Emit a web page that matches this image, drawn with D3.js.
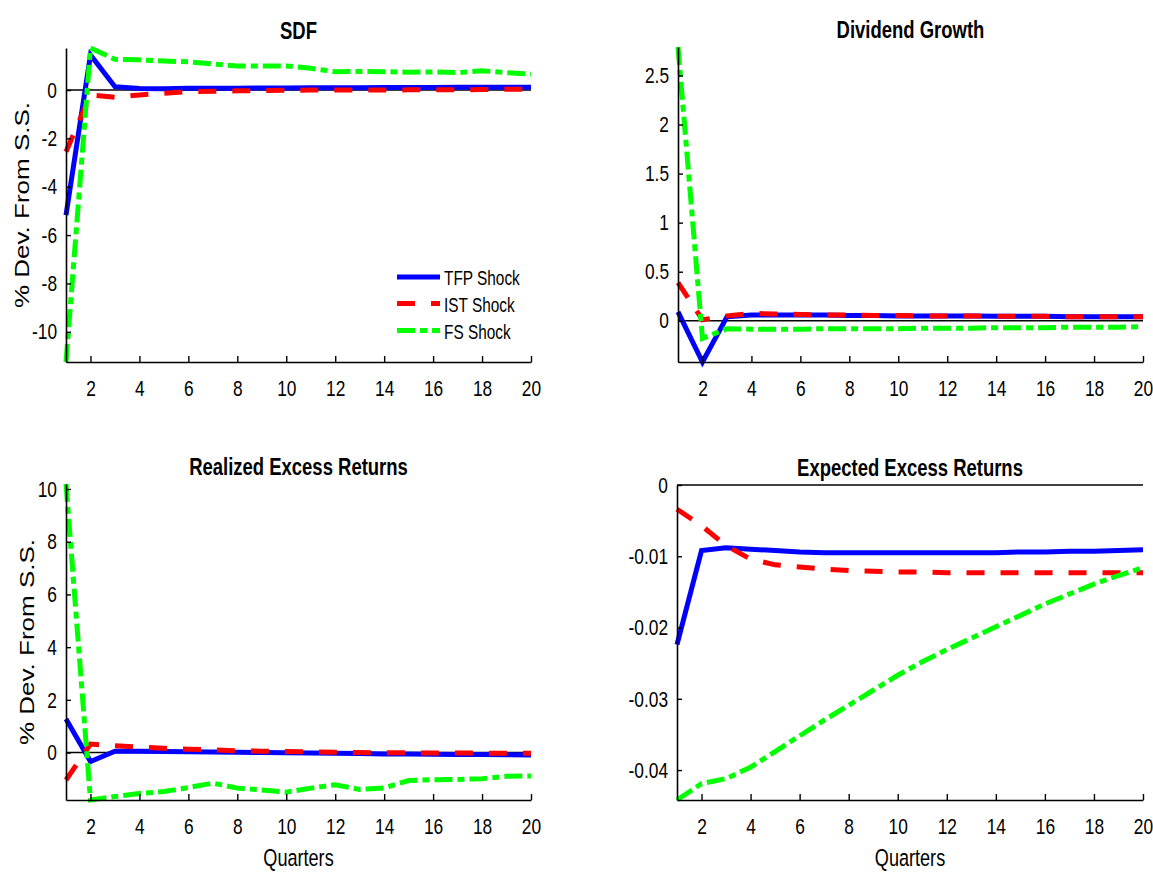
<!DOCTYPE html>
<html>
<head>
<meta charset="utf-8">
<script src="https://cdn.jsdelivr.net/npm/d3@7/dist/d3.min.js"></script>
<style>
  html, body { margin: 0; padding: 0; background: #fff; }
  svg { display: block; font-family: "Liberation Sans", Arial, Helvetica, sans-serif; }
</style>
</head>
<body>
<svg id="chart" width="1153" height="873"></svg>
<script>
// ---------------- data ----------------
const quarters = [1,2,3,4,5,6,7,8,9,10,11,12,13,14,15,16,17,18,19,20];
const xTickValues = [2,4,6,8,10,12,14,16,18,20];
const seriesNames = ["TFP Shock", "IST Shock", "FS Shock"];

// SDF
const sdfTFP = [-5.17, 1.45, 0.14, 0.06, 0.05, 0.07, 0.08, 0.08, 0.09, 0.09, 0.10, 0.10, 0.10, 0.11, 0.11, 0.11, 0.12, 0.12, 0.12, 0.12];
const sdfIST = [-2.55, -0.20, -0.30, -0.20, -0.13, -0.07, -0.05, -0.03, -0.02, -0.01, 0.00, 0.00, 0.00, 0.00, 0.01, 0.01, 0.01, 0.02, 0.03, 0.03];
const sdfFS  = [-11.25, 1.74, 1.27, 1.25, 1.20, 1.17, 1.08, 1.00, 1.00, 1.00, 0.90, 0.76, 0.77, 0.76, 0.74, 0.75, 0.72, 0.80, 0.72, 0.66];
const sdfTicks = [-10, -8, -6, -4, -2, 0];
const sdfTickLabels = ["-10", "-8", "-6", "-4", "-2", "0"];
const sdfDomain = [-11.25, 1.74];

// Dividend Growth
const dgTFP = [0.09, -0.42, 0.04, 0.06, 0.06, 0.06, 0.06, 0.055, 0.055, 0.05, 0.05, 0.05, 0.05, 0.045, 0.045, 0.045, 0.04, 0.04, 0.04, 0.04];
const dgIST = [0.39, 0.01, 0.05, 0.075, 0.07, 0.065, 0.06, 0.06, 0.055, 0.055, 0.05, 0.05, 0.05, 0.045, 0.045, 0.045, 0.04, 0.04, 0.04, 0.04];
const dgFS  = [2.79, -0.18, -0.08, -0.085, -0.085, -0.085, -0.08, -0.08, -0.08, -0.08, -0.075, -0.075, -0.075, -0.07, -0.07, -0.07, -0.065, -0.065, -0.065, -0.06];
const dgTicks = [0, 0.5, 1, 1.5, 2, 2.5];
const dgTickLabels = ["0", "0.5", "1", "1.5", "2", "2.5"];
const dgDomain = [-0.42, 2.79];

// Realized Excess Returns
const rerTFP = [1.27, -0.34, 0.05, 0.05, 0.04, 0.03, 0.02, 0.01, 0.00, -0.01, -0.02, -0.03, -0.04, -0.05, -0.05, -0.06, -0.07, -0.07, -0.08, -0.09];
const rerIST = [-1.04, 0.32, 0.26, 0.21, 0.16, 0.13, 0.10, 0.07, 0.05, 0.04, 0.02, 0.01, 0.00, -0.01, -0.01, -0.02, -0.02, -0.02, -0.03, -0.03];
const rerFS  = [10.19, -1.80, -1.67, -1.55, -1.48, -1.33, -1.16, -1.35, -1.42, -1.50, -1.35, -1.22, -1.40, -1.34, -1.06, -1.03, -1.02, -0.99, -0.90, -0.89];
const rerTicks = [0, 2, 4, 6, 8, 10];
const rerTickLabels = ["0", "2", "4", "6", "8", "10"];
const rerDomain = [-1.80, 10.19];

// Expected Excess Returns
const eerTFP = [-0.0224, -0.0092, -0.0088, -0.0090, -0.0092, -0.0094, -0.0095, -0.0095, -0.0095, -0.0095, -0.0095, -0.0095, -0.0095, -0.0095, -0.0094, -0.0094, -0.0093, -0.0093, -0.0092, -0.0091];
const eerIST = [-0.0034, -0.0057, -0.0085, -0.0104, -0.0112, -0.0115, -0.0118, -0.0120, -0.0121, -0.0122, -0.0122, -0.0123, -0.0123, -0.0123, -0.0123, -0.0123, -0.0123, -0.0123, -0.0123, -0.0123];
const eerFS  = [-0.0442, -0.0419, -0.0412, -0.0396, -0.0374, -0.0352, -0.0330, -0.0309, -0.0288, -0.0267, -0.0248, -0.0231, -0.0215, -0.0199, -0.0183, -0.0167, -0.0153, -0.0139, -0.0127, -0.0116];
const eerTicks = [-0.04, -0.03, -0.02, -0.01, 0];
const eerTickLabels = ["-0.04", "-0.03", "-0.02", "-0.01", "0"];
const eerDomain = [-0.0442, 0];

// ---------------- styles & layout ----------------
const colors = ["#0000ff", "#ff0000", "#00ff00"];
const dashes = [null, "18,16", "18,5,7,5"];
const SQ = 0.77;   // horizontal squeeze of text (as in the reference)

const panels = [
  { title: "SDF", tfp: sdfTFP, ist: sdfIST, fs: sdfFS, ticks: sdfTicks, labels: sdfTickLabels, domain: sdfDomain,
    x0: 66, x1: 531, y0: 48, y1: 362, ylabel: true, ylabX: 29, xlabel: false, legend: true },
  { title: "Dividend Growth", tfp: dgTFP, ist: dgIST, fs: dgFS, ticks: dgTicks, labels: dgTickLabels, domain: dgDomain,
    x0: 678, x1: 1143, y0: 47, y1: 362, ylabel: false, xlabel: false, legend: false },
  { title: "Realized Excess Returns", tfp: rerTFP, ist: rerIST, fs: rerFS, ticks: rerTicks, labels: rerTickLabels, domain: rerDomain,
    x0: 66, x1: 531, y0: 484, y1: 800, ylabel: true, ylabX: 34, xlabel: true, legend: false },
  { title: "Expected Excess Returns", tfp: eerTFP, ist: eerIST, fs: eerFS, ticks: eerTicks, labels: eerTickLabels, domain: eerDomain,
    x0: 677, x1: 1143, y0: 485, y1: 800, ylabel: false, xlabel: true, legend: false }
];

const svg = d3.select("#chart");
svg.append("rect").attr("width", 1153).attr("height", 873).attr("fill", "#fff");

function sqText(g, x, y, txt, opts) {
  return g.append("text")
    .attr("transform", `translate(${x},${y}) scale(${SQ},1)`)
    .attr("text-anchor", opts.anchor || "middle")
    .attr("font-size", opts.size)
    .attr("font-weight", opts.weight || "normal")
    .attr("fill", "#000")
    .text(txt);
}

panels.forEach(p => {
  const x = d3.scaleLinear().domain([1, 20]).range([p.x0, p.x1]);
  const y = d3.scaleLinear().domain(p.domain).range([p.y1, p.y0]);
  const g = svg.append("g");

  // zero line
  g.append("line")
    .attr("x1", x(1)).attr("x2", x(20))
    .attr("y1", y(0)).attr("y2", y(0))
    .attr("stroke", "#000").attr("stroke-width", 1.6);

  // series
  const line = d3.line().x((d, i) => x(quarters[i])).y(d => y(d));
  [p.tfp, p.ist, p.fs].forEach((s, k) => {
    g.append("path")
      .datum(s)
      .attr("d", line)
      .attr("fill", "none")
      .attr("stroke", colors[k])
      .attr("stroke-width", 5)
      .attr("stroke-linejoin", "miter")
      .attr("stroke-dasharray", dashes[k]);
  });

  // axes
  const xAxis = d3.axisBottom(x).tickValues(xTickValues).tickFormat(d3.format("d"))
    .tickSizeInner(-6).tickSizeOuter(0).tickPadding(18);
  const gx = g.append("g").attr("transform", `translate(0,${p.y1})`).call(xAxis);
  const yAxis = d3.axisLeft(y).tickValues(p.ticks).tickFormat((d, i) => p.labels[i])
    .tickSizeInner(-5).tickSizeOuter(0).tickPadding(9);
  const gy = g.append("g").attr("transform", `translate(${p.x0},0)`).call(yAxis);

  [gx, gy].forEach(a => {
    a.select(".domain").attr("stroke", "#000").attr("stroke-width", 1.6);
    a.selectAll(".tick line").attr("stroke", "#000").attr("stroke-width", 1.4);
    a.selectAll(".tick text")
      .attr("font-size", 22.5)
      .attr("font-family", '"Liberation Sans", Arial, sans-serif')
      .attr("fill", "#000");
  });
  gx.selectAll(".tick text").attr("transform", `scale(${SQ},1)`);
  gy.selectAll(".tick text").attr("transform", `scale(${SQ},1)`)
    .attr("x", -9 / SQ);

  // title
  const cx = (p.x0 + p.x1) / 2;
  sqText(g, cx, p.y0 - 9, p.title, { size: 24, weight: "bold" });

  // axis labels
  if (p.xlabel) {
    sqText(g, cx, 866, "Quarters", { size: 23.5 });
  }
  if (p.ylabel) {
    g.append("text")
      .attr("transform", `translate(${p.ylabX},${(p.y0 + p.y1) / 2}) scale(${SQ},1) rotate(-90)`)
      .attr("text-anchor", "middle")
      .attr("font-size", 26)
      .attr("fill", "#000")
      .text("% Dev. From S.S.");
  }

  // legend
  if (p.legend) {
    const lg = g.append("g");
    const rowsY = [277, 303.5, 330.5];
    seriesNames.forEach((name, k) => {
      lg.append("line")
        .attr("x1", 397).attr("x2", 440)
        .attr("y1", rowsY[k]).attr("y2", rowsY[k])
        .attr("stroke", colors[k]).attr("stroke-width", 5)
        .attr("stroke-dasharray", dashes[k]);
      sqText(lg, 444, rowsY[k] + 8, name, { size: 20, anchor: "start" });
    });
  }
});
</script>
</body>
</html>
